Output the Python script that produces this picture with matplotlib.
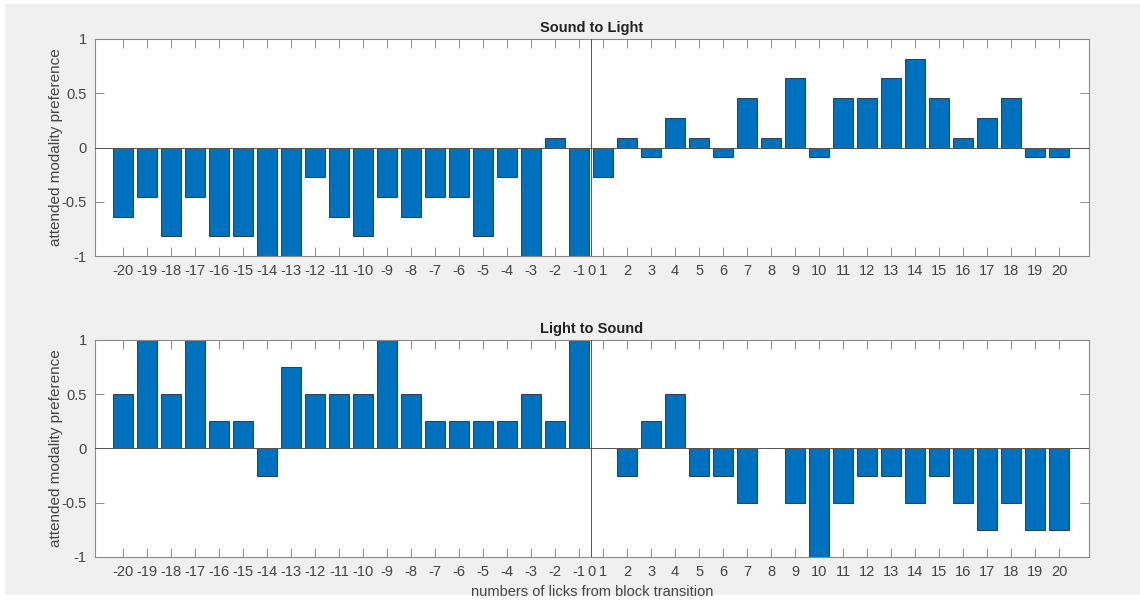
import matplotlib
matplotlib.use("Agg")
import matplotlib.pyplot as plt
from matplotlib.patches import Rectangle
import numpy as np

plt.rcParams['font.family'] = ['Liberation Sans', 'DejaVu Sans']
plt.rcParams['axes.unicode_minus'] = False

# licks relative to the block transition (no lick 0)
licks = list(range(-20, 0)) + list(range(1, 21))

# Sound to Light: preference in steps of 1/11
sound_to_light = [-7/11, -5/11, -9/11, -5/11, -9/11, -9/11, -1, -1, -3/11, -7/11,
                  -9/11, -5/11, -7/11, -5/11, -5/11, -9/11, -3/11, -1, 1/11, -1,
                  -3/11, 1/11, -1/11, 3/11, 1/11, -1/11, 5/11, 1/11, 7/11, -1/11,
                  5/11, 5/11, 7/11, 9/11, 5/11, 1/11, 3/11, 5/11, -1/11, -1/11]

# Light to Sound: preference in steps of 1/4
light_to_sound = [0.5, 1, 0.5, 1, 0.25, 0.25, -0.25, 0.75, 0.5, 0.5,
                  0.5, 1, 0.5, 0.25, 0.25, 0.25, 0.25, 0.5, 0.25, 1,
                  0, -0.25, 0.25, 0.5, -0.25, -0.25, -0.5, 0, -0.5, -1,
                  -0.5, -0.25, -0.25, -0.5, -0.25, -0.5, -0.75, -0.5, -0.75, -0.75]

titles = ["Sound to Light", "Light to Sound"]

bar_color = '#0072BD'
axis_gray = '#8a8a8a'
text_gray = '#444444'

fig = plt.figure(figsize=(11.4, 6.01), dpi=100, facecolor='white')
# grey figure panel
fig.patches.append(Rectangle((5/1140, 1 - 595/601), 1135/1140, 591/601,
                             transform=fig.transFigure, facecolor='#f0f0f0',
                             edgecolor='none', zorder=-10))

pos = np.arange(len(licks))
split = len(licks) // 2 - 0.5   # position of the transition (tick "0")
tick_pos = list(pos[:20]) + [split] + list(pos[20:])
tick_lab = [str(v) for v in licks[:20]] + ["0"] + [str(v) for v in licks[20:]]

left, right = 95/1140, 1089/1140
boxes = [(39, 256), (340, 557)]

for i, (vals, title) in enumerate(zip([sound_to_light, light_to_sound], titles)):
    top, bot = boxes[i]
    ax = fig.add_axes([left, 1 - bot/601, right - left, (bot - top)/601])
    ax.set_facecolor('white')
    ax.bar(pos, vals, width=0.8, color=bar_color, edgecolor='#1a2a40',
           linewidth=0.6, zorder=2)
    ax.axhline(0, color='#555555', linewidth=0.7, zorder=3)
    ax.axvline(split, color='#555555', linewidth=0.7, zorder=3)

    ax.set_xlim(-1.17, 40.25)
    ax.set_ylim(-1, 1)
    ax.set_yticks([-1, -0.5, 0, 0.5, 1])
    ax.set_yticklabels(['-1', '-0.5', '0', '0.5', '1'])
    ax.set_xticks(tick_pos)
    ax.set_xticklabels(tick_lab)
    ax.tick_params(direction='in', top=True, right=True, length=6.5, width=0.7,
                   color=axis_gray, labelcolor=text_gray, labelsize=10.5, pad=6)
    for sp in ax.spines.values():
        sp.set_color(axis_gray)
        sp.set_linewidth(0.8)

    ax.set_title(title, fontsize=10.5, fontweight='bold', color='#222222', pad=5)
    ax.set_ylabel("attended modality preference", fontsize=11, color=text_gray)
    ax.yaxis.set_label_coords(-0.032, 0.5)
    if i == 1:
        ax.set_xlabel("numbers of licks from block transition", fontsize=10.5,
                      color=text_gray, labelpad=4)

fig.savefig("out.png", dpi=100, facecolor=fig.get_facecolor())
